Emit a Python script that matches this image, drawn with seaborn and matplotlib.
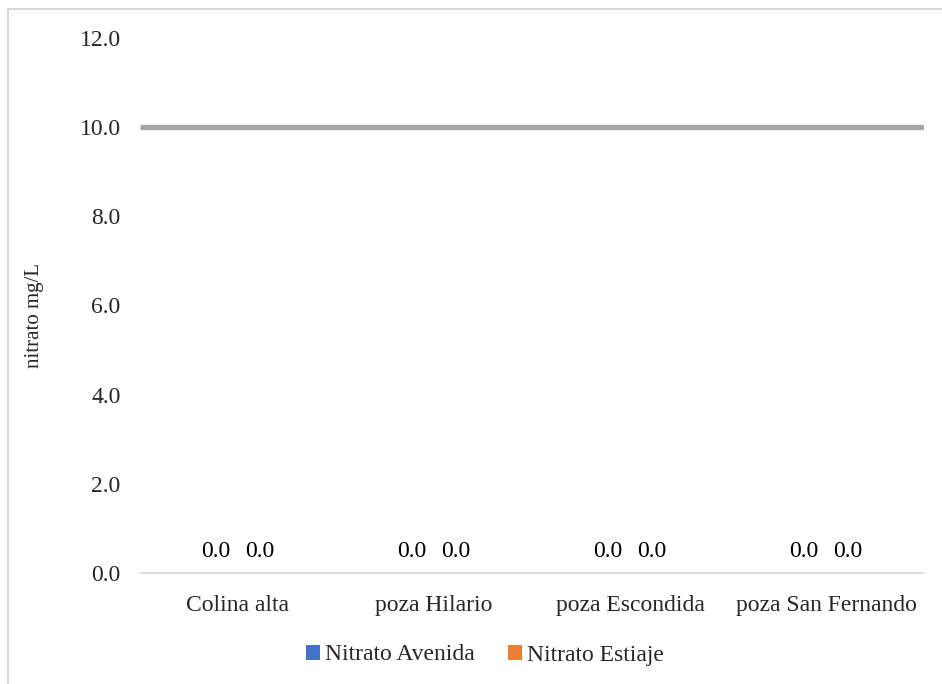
import matplotlib
matplotlib.use("Agg")
import matplotlib.pyplot as plt
import matplotlib.patches as mpatches
import seaborn as sns
import pandas as pd

# Datos de nitrato por punto de muestreo
puntos = ["Colina alta", "poza Hilario", "poza Escondida", "poza San Fernando"]
nitrato_avenida = [0.0, 0.0, 0.0, 0.0]
nitrato_estiaje = [0.0, 0.0, 0.0, 0.0]
limite_nitrato = 10.0
series = ["Nitrato Avenida", "Nitrato Estiaje"]
colores = ["#4472C4", "#ED7D31"]
yticks = [0, 2, 4, 6, 8, 10, 12]

df = pd.DataFrame({
    "punto": puntos * 2,
    "valor": nitrato_avenida + nitrato_estiaje,
    "serie": [series[0]] * len(puntos) + [series[1]] * len(puntos),
})

sns.set_theme(style="white")
plt.rcParams["font.family"] = ["Liberation Serif", "DejaVu Serif"]

fig = plt.figure(figsize=(9.42, 6.84), dpi=100)
ax = fig.add_axes([140 / 942, 1 - 573 / 684, 784 / 942, (573 - 37.8) / 684])

sns.barplot(data=df, x="punto", y="valor", hue="serie", palette=colores,
            width=0.45, ax=ax, legend=False, order=puntos, hue_order=series)

# Límite máximo permisible
ax.axhline(limite_nitrato, color="#A5A5A5", lw=3.8, solid_capstyle="butt", zorder=3)

for cont in ax.containers:
    ax.bar_label(cont, labels=[f"{v.get_height():.1f}" for v in cont],
                 padding=8, fontsize=17, color="#000000")

ax.set_ylim(0, 12)
ax.set_xlim(-0.5, len(puntos) - 0.5)
ax.set_yticks(yticks)
ax.set_yticklabels([f"{t:.1f}" for t in yticks], fontsize=17)
ax.set_xticks(range(len(puntos)))
ax.set_xticklabels(puntos, fontsize=17)
ax.set_xticks([i - 0.5 for i in range(len(puntos) + 1)], minor=True)
ax.tick_params(axis="x", which="major", length=0, pad=16)
ax.tick_params(axis="x", which="minor", length=6, width=1.3, color="#D9D9D9", direction="out")
ax.tick_params(axis="y", length=0, pad=14)
ax.set_xlabel("")
ax.set_ylabel("nitrato mg/L", fontsize=15)
ax.yaxis.set_label_coords(-0.123, 0.482)

for s in ["top", "right", "left"]:
    ax.spines[s].set_visible(False)
ax.spines["bottom"].set_color("#D9D9D9")
ax.spines["bottom"].set_linewidth(1.3)
ax.grid(False)

handles = [mpatches.Patch(facecolor=c, edgecolor="none") for c in colores]
fig.legend(handles, series, loc="center", bbox_to_anchor=(485 / 942, 1 - 655 / 684),
           ncol=2, frameon=False, fontsize=17, handlelength=0.6, handleheight=0.6,
           handletextpad=0.2, columnspacing=1.4)

# Marco del gráfico
fig.patches.append(mpatches.Rectangle((8 / 942, -0.05), 1.1, 1 - 9 / 684 + 0.05,
                                      transform=fig.transFigure, fill=False,
                                      edgecolor="#D9D9D9", lw=1.5))

fig.savefig("out.png", dpi=100, facecolor="white")
